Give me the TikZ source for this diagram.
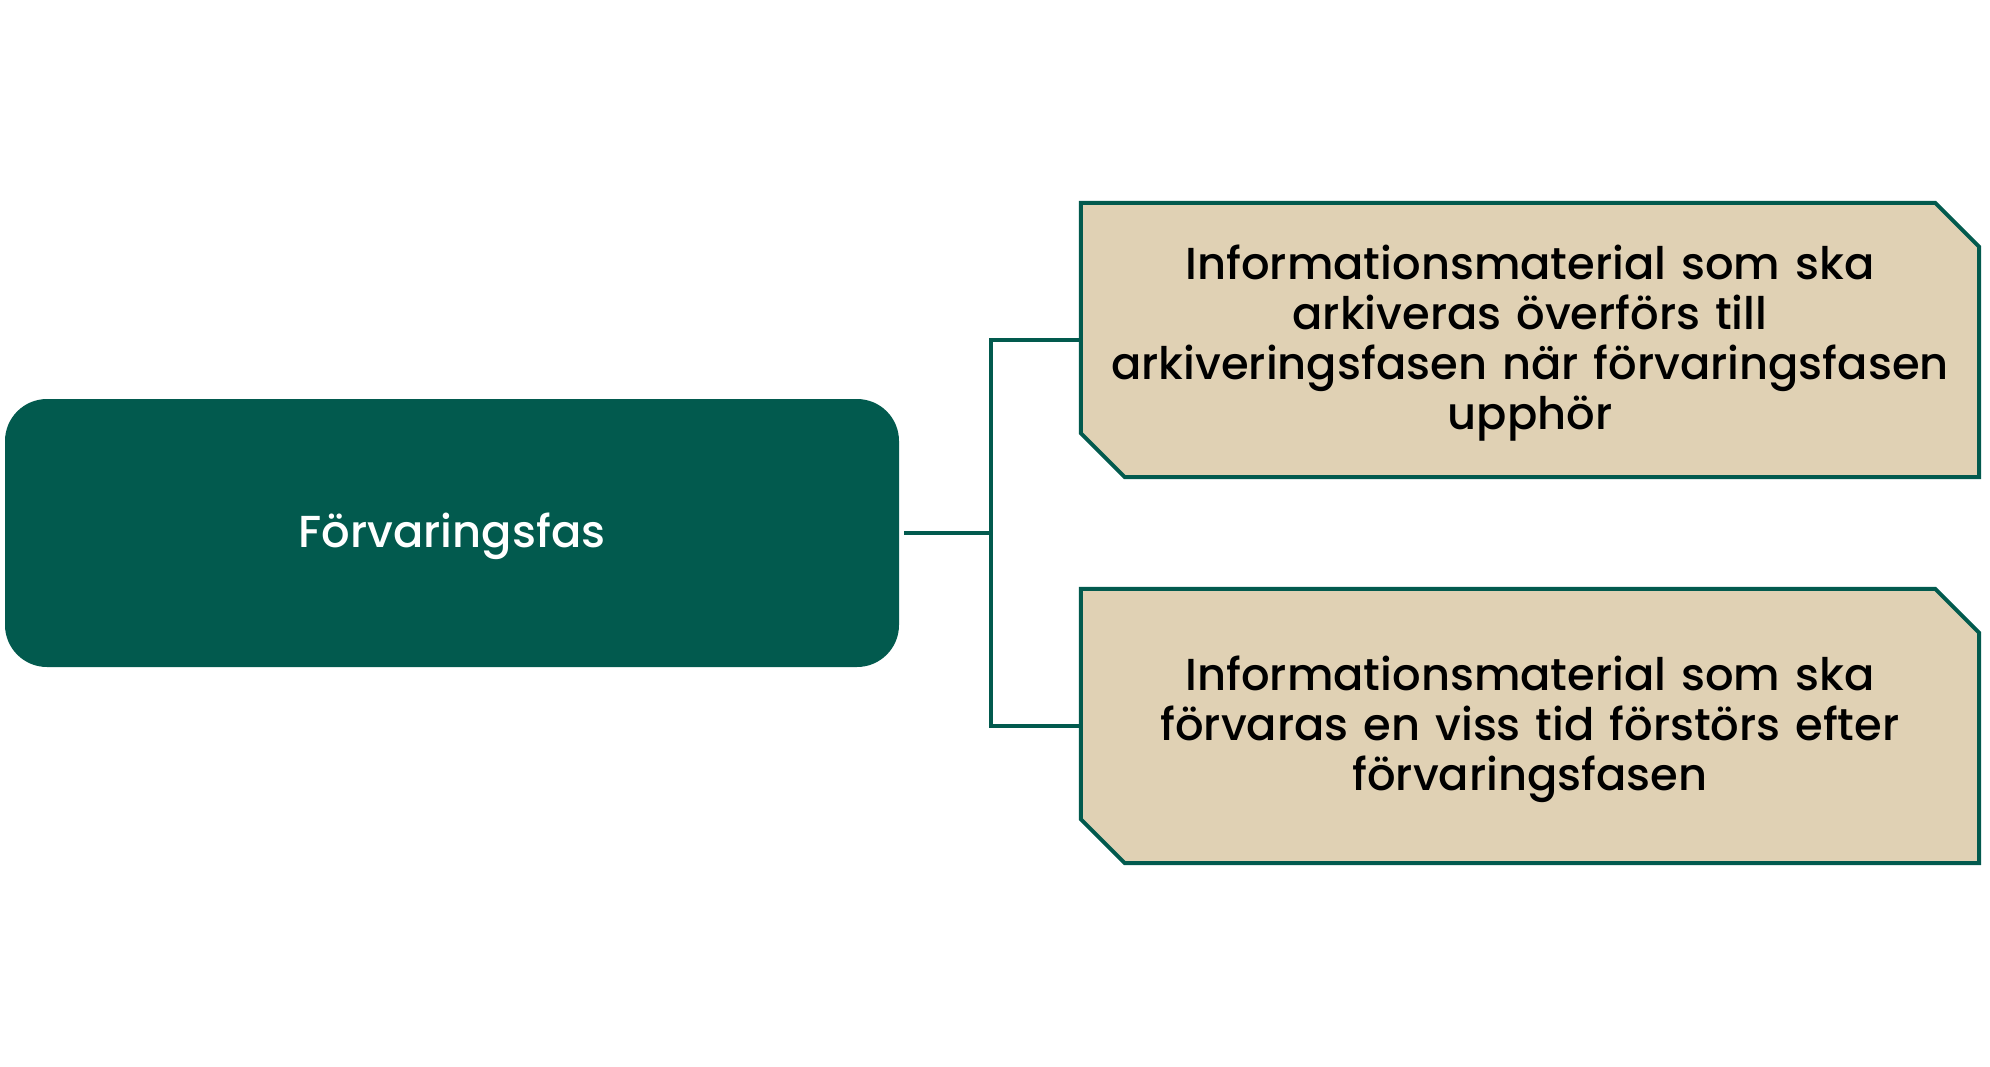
\documentclass[tikz,border=0pt]{standalone}
\usepackage{fontspec}
\setmainfont{Poppins}[UprightFont=* Medium]
\definecolor{dgreen}{HTML}{025A4E}
\definecolor{beige}{HTML}{E0D1B4}
\begin{document}
\begin{tikzpicture}[x=1pt,y=-1pt,
  phasebox/.style={rectangle, rounded corners=42pt, fill=dgreen, text=white,
    minimum width=894pt, minimum height=268pt, inner sep=0pt,
    font=\fontsize{44.8}{50}\selectfont},
  infobox/.style={rectangle, minimum width=898pt, minimum height=274pt,
    inner sep=0pt, text width=880pt, align=center, text=black,
    font=\fontsize{44.8}{50}\selectfont},
  outline/.style={draw=dgreen, fill=beige, line width=4pt, line join=miter},
  conn/.style={draw=dgreen, line width=4pt}]
\useasboundingbox (0,0) rectangle (1990,1066);
\node[phasebox] (phase) at (452,533) {};
\node[text=white, font=\fontsize{44.8}{50}\selectfont] at ([yshift=-3pt]phase.center) {Förvaringsfas};
\node[infobox] (b1) at (1530,340) {};
\node[infobox] (b2) at (1530,726) {};
\foreach \b in {b1,b2}{
  \path[outline] (\b.north west) -- ([xshift=-44pt]\b.north east)
    -- ([yshift=-44pt]\b.north east) -- (\b.south east)
    -- ([xshift=44pt]\b.south west) -- ([yshift=44pt]\b.south west) -- cycle;
}
\node[infobox] at ([yshift=-3pt]b1.center) {Informationsmaterial som ska\\arkiveras överförs till\\arkiveringsfasen när förvaringsfasen\\upphör};
\node[infobox] at ([yshift=-3pt]b2.center) {Informationsmaterial som ska\\förvaras en viss tid förstörs efter\\förvaringsfasen};
\coordinate (j) at (991,533);
\draw[conn] ([xshift=5pt]phase.east) -- (j);
\draw[conn] (j) |- (b1.west);
\draw[conn] (j) |- (b2.west);
\end{tikzpicture}
\end{document}
